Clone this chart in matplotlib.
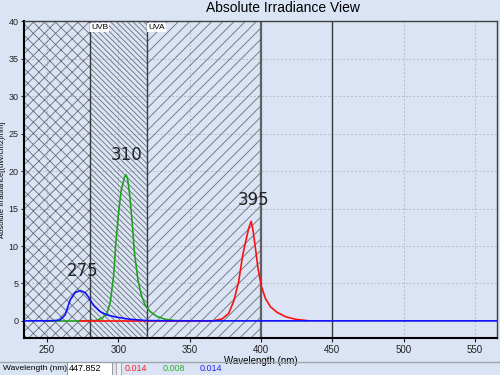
import matplotlib.pyplot as plt
from matplotlib.patches import Rectangle

plt.rcParams['font.family'] = ['Liberation Sans', 'DejaVu Sans']
plt.rcParams['hatch.linewidth'] = 0.6

BG = '#dae4f5'

# 光谱数据 (波长 nm, 辐照度)
BLUE_WL = [234, 250, 255, 259.1, 262.6, 266.2, 269.7, 273.2, 276.7, 279, 282.5,
           287.2, 291.9, 299, 308.3, 320, 335, 360, 565]
BLUE_VAL = [0.014, 0.02, 0.05, 0.13, 0.8, 2.8, 3.8, 4.05, 3.8, 3.2, 2.1,
            1.25, 0.8, 0.5, 0.22, 0.05, 0.02, 0.014, 0.014]

GREEN_WL = [250, 270, 283.7, 288.4, 291.9, 294.2, 296.6, 298.2, 300.1, 302, 304.3,
            305.3, 306.4, 307.8, 309.5, 311.3, 313.7, 316, 318.8, 322.3, 327,
            332.9, 339.9, 350]
GREEN_VAL = [0.0, 0.0, 0.05, 0.35, 1.0, 2.4, 5.9, 10.4, 14.4, 17.5, 19.2,
             19.5, 19.0, 17.0, 13.5, 9.0, 5.5, 3.5, 2.1, 1.25, 0.6,
             0.22, 0.05, 0.0]

RED_WL = [273, 320, 365.7, 372.7, 377.3, 380.8, 384.3, 387.2, 389.5, 391.4, 393.1,
          394.4, 396.1, 397.9, 400.3, 403.1, 406.6, 411.3, 417.1, 424.2, 432.4]
RED_VAL = [0.0, 0.0, 0.0, 0.27, 1.0, 2.6, 5.2, 8.8, 10.8, 12.4, 13.3,
           12.1, 9.7, 7.0, 4.6, 3.0, 1.9, 1.15, 0.58, 0.22, 0.05]

# 峰值标注
PEAK_LABELS = ['275', '310', '395']
PEAK_POS = [(274.6, 6.7), (305.5, 22.1), (395, 16.1)]

# 区域: (起点, 终点, 花纹, 名称)
REGIONS = [(233.8, 280, 'xxx', ''), (280, 320, '\\' * 6, 'UVB'), (320, 400, '///', 'UVA')]
VLINES = [280, 320, 400, 450]

X_TICKS = [250, 300, 350, 400, 450, 500, 550]
Y_TICKS = [0, 5, 10, 15, 20, 25, 30, 35, 40]

READOUT_WL = '447.852'
READOUT_VALS = ['0.014', '0.008', '0.014']
READOUT_COLORS = ['#ff2020', '#30b030', '#2020ff']


def main():
    fig = plt.figure(figsize=(5, 3.75), dpi=100, facecolor=BG)
    ax = fig.add_axes([0.048, 0.0987, 0.946, 0.845], facecolor=BG)

    ax.set_xlim(233.8, 565.5)
    ax.set_ylim(-2.27, 40)

    ax.grid(True, color='#b8bcc8', linestyle=(0, (2, 2)), linewidth=0.7)
    ax.set_axisbelow(True)

    # 区域花纹
    for x0, x1, hatch, name in REGIONS:
        ax.axvspan(x0, x1, facecolor='none', edgecolor='#6a6e78', linewidth=0, hatch=hatch, zorder=1)
        if name:
            ax.text(x0 + 0.8, 39.6, name, fontsize=6, va='top', ha='left', zorder=5,
                    bbox=dict(facecolor='white', edgecolor='none', pad=0.6))
    for v in VLINES:
        ax.axvline(v, color='#3a3a3a' if v != 400 else '#606060', linewidth=1.0 if v != 400 else 1.6, zorder=2)

    ax.plot(GREEN_WL, GREEN_VAL, color='#22a022', linewidth=1.2, zorder=3)
    ax.plot(RED_WL, RED_VAL, color='#ff1010', linewidth=1.2, zorder=3)
    ax.plot(BLUE_WL, BLUE_VAL, color='#1010ff', linewidth=1.2, zorder=4)

    for label, (x, y) in zip(PEAK_LABELS, PEAK_POS):
        ax.text(x, y, label, fontsize=12, ha='center', va='center', color='#222222',
                family=['DejaVu Sans'], zorder=5)

    ax.set_xticks(X_TICKS)
    ax.set_yticks(Y_TICKS)
    ax.tick_params(labelsize=7, length=3, width=0.8, pad=2, colors='#222222')
    ax.tick_params(axis='y', labelsize=6.5, length=2.5, pad=1.5)
    for side in ['left', 'bottom']:
        ax.spines[side].set_linewidth(1.5)
        ax.spines[side].set_color('black')
    for side in ['top', 'right']:
        ax.spines[side].set_linewidth(1.0)
        ax.spines[side].set_color('#404040')

    ax.set_xlabel('Wavelength (nm)', fontsize=7, labelpad=1)
    ax.set_ylabel('Absolute Irradiance[(uW/cm2)/nm]', fontsize=5.5)
    ax.yaxis.set_label_coords(-0.039, 0.5)
    fig.text(0.566, 0.978, 'Absolute Irradiance View', fontsize=10, ha='center', va='center')

    # 底部状态栏
    fig.add_artist(plt.Line2D([0, 1], [0.036, 0.036], color='#a0a4ac', linewidth=1.0))
    fig.text(0.006, 0.017, 'Wavelength (nm)', fontsize=6, va='center', ha='left')
    fig.add_artist(Rectangle((0.134, 0.0), 0.09, 0.034, facecolor='white', edgecolor='#8a8a8a', linewidth=0.6))
    fig.text(0.137, 0.017, READOUT_WL, fontsize=6.5, va='center', ha='left')
    fig.add_artist(Rectangle((0.232, 0.0), 0.01, 0.034, facecolor='#f0f0f0', edgecolor='#8a8a8a', linewidth=0.5))
    for xpos, val, col in zip([0.25, 0.325, 0.4], READOUT_VALS, READOUT_COLORS):
        fig.text(xpos, 0.017, val, fontsize=6.5, va='center', ha='left', color=col)

    fig.savefig('out.png', dpi=100, facecolor=BG)


if __name__ == '__main__':
    main()
